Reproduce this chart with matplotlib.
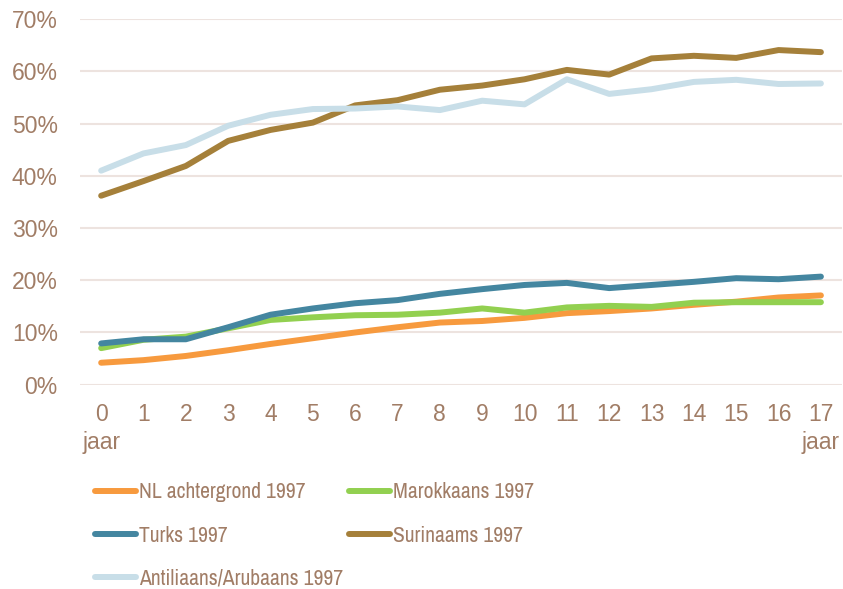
import matplotlib.pyplot as plt
from matplotlib.ticker import PercentFormatter
from matplotlib.font_manager import FontProperties, fontManager

plt.rcParams['font.family'] = ['Liberation Sans', 'DejaVu Sans']

years = list(range(18))
x_labels = ['0\njaar'] + [str(y) for y in range(1, 17)] + ['17\njaar']

nl = [4.2, 4.7, 5.5, 6.6, 7.8, 8.9, 10.0, 11.0, 11.9, 12.2, 12.8, 13.7, 14.1, 14.6, 15.3, 15.9, 16.7, 17.1]
marokkaans = [7.0, 8.6, 9.2, 10.8, 12.4, 12.9, 13.3, 13.4, 13.8, 14.6, 13.8, 14.8, 15.1, 14.9, 15.7, 15.8, 15.8, 15.8]
turks = [7.9, 8.7, 8.7, 11.0, 13.4, 14.6, 15.6, 16.2, 17.4, 18.3, 19.1, 19.5, 18.5, 19.1, 19.7, 20.4, 20.2, 20.7]
surinaams = [36.2, 39.0, 41.9, 46.7, 48.8, 50.2, 53.5, 54.5, 56.5, 57.3, 58.5, 60.3, 59.4, 62.5, 63.0, 62.6, 64.1, 63.7]
antilliaans = [41.0, 44.3, 45.9, 49.6, 51.7, 52.8, 52.9, 53.3, 52.6, 54.4, 53.7, 58.5, 55.7, 56.6, 58.0, 58.4, 57.6, 57.7]

series = [
    ('NL achtergrond 1997', nl, '#F79A3E'),
    ('Marokkaans 1997', marokkaans, '#92D050'),
    ('Turks 1997', turks, '#4486A0'),
    ('Surinaams 1997', surinaams, '#A5803A'),
    ('Antiliaans/Arubaans 1997', antilliaans, '#C8DEE8'),
]

text_color = '#A17D66'
grid_color = '#EDE3DF'
fs = 16.5

fig = plt.figure(figsize=(8.43, 5.89), dpi=100)
ax = fig.add_axes([0.0949, 0.3469, 0.904, 0.6204])

for label, vals, color in series:
    ax.plot(years, vals, color=color, lw=4.3, solid_capstyle='round',
            solid_joinstyle='round', label=label)

ax.set_xlim(-0.5, 17.5)
ax.set_ylim(0, 70)
ax.set_yticks(range(0, 71, 10))
ax.yaxis.set_major_formatter(PercentFormatter(decimals=0))
ax.set_xticks(years)
ax.set_xticklabels(x_labels)

ax.grid(axis='y', color=grid_color, lw=1.5)
ax.set_axisbelow(True)
for s in ax.spines.values():
    s.set_visible(False)
ax.tick_params(axis='both', length=0, colors=text_color, labelsize=fs)
ax.tick_params(axis='x', pad=13)
ax.tick_params(axis='y', pad=16)
for t in ax.get_xticklabels():
    t.set_verticalalignment('top')
    t.set_linespacing(1.3)

# the legend text is condensed in the original; use a narrow face if one exists
narrow = sorted({f.name for f in fontManager.ttflist
                 if 'narrow' in f.name.lower() or 'condensed' in f.name.lower()})
if 'Liberation Sans Narrow' in narrow:
    narrow.insert(0, 'Liberation Sans Narrow')
if narrow:
    lfs = 15.6
    leg_font = FontProperties(family=[narrow[0], 'Liberation Sans'], size=lfs,
                              weight='normal', style='normal')
else:
    lfs = 13.3
    leg_font = FontProperties(family=['Liberation Sans'], size=lfs)
em = lfs * 100 / 72

# legend filled row by row, as in the original
handles, labels = ax.get_legend_handles_labels()
order = [0, 2, 4, 1, 3]
leg = fig.legend([handles[i] for i in order], [labels[i] for i in order],
                 loc='upper left', bbox_to_anchor=(95 / 843, 1 - 482.5 / 589),
                 ncol=2, frameon=False, prop=leg_font, handlelength=41 / em,
                 handletextpad=3 / em, columnspacing=6 / em,
                 labelspacing=1.07, borderaxespad=0, borderpad=0)
for t in leg.get_texts():
    t.set_color(text_color)

fig.savefig('out.png', dpi=100)
